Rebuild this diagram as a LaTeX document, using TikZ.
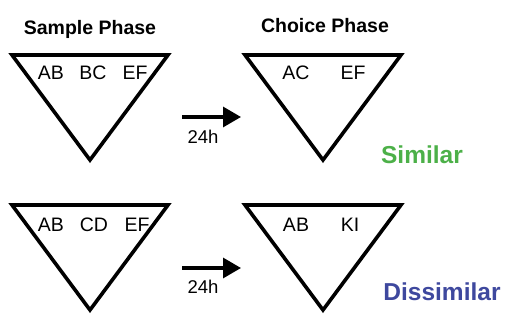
\documentclass[tikz,border=0pt]{standalone}
\usepackage{fontspec}
\setmainfont{Liberation Sans}
\usetikzlibrary{arrows.meta}
\definecolor{simgreen}{RGB}{76,176,72}
\definecolor{disblue}{RGB}{62,72,158}

\begin{document}
\begin{tikzpicture}[x=1pt, y=-1pt,
    tri/.style={line width=3.6pt, line join=miter},
    phase/.style={font=\fontsize{19.5}{19.5}\selectfont\bfseries},
    pair/.style={font=\fontsize{19.5}{19.5}\selectfont},
    delay/.style={font=\fontsize{18.5}{18.5}\selectfont},
    verdict/.style={font=\fontsize{24.5}{24.5}\selectfont\bfseries},
    wait/.style={line width=3.2pt, -{Triangle[length=18pt, width=20pt]}}]
  \useasboundingbox (0,0) rectangle (507,328);
  \node[phase] (sample) at (90,29) {Sample Phase};
  \node[phase] (choice) at (325,26) {Choice Phase};
  % four inverted triangles, sample left and choice right
  \foreach \x/\y in {12/55,245/55,12/205,245/205}{
    \draw[tri] (\x,\y) -- ++(156,0) -- ++(-78,105) -- cycle; }
  % object pairs
  \node[pair] (sAB) at (51,73) {AB};
  \node[pair] (sBC) at (93,73) {BC};
  \node[pair] (sEF) at (135,73) {EF};
  \node[pair] (cAC) at (296,73) {AC};
  \node[pair] (cEF) at (353,73) {EF};
  \node[pair] (dAB) at (51,225) {AB};
  \node[pair] (dCD) at (94,225) {CD};
  \node[pair] (dEF) at (137,225) {EF};
  \node[pair] (kAB) at (296,225) {AB};
  \node[pair] (kKI) at (350,225) {KI};
  % the 24h delay
  \coordinate (simfrom) at (182,117);
  \coordinate (simto) at (241,117);
  \coordinate (disfrom) at (182,268);
  \coordinate (disto) at (241,268);
  \draw[wait] (simfrom) -- (simto);
  \draw[wait] (disfrom) -- (disto);
  \node[delay] (simdelay) at (203,137) {24h};
  \node[delay] (disdelay) at (203,287) {24h};
  \node[verdict, simgreen] (similar) at (422,155) {Similar};
  \node[verdict, disblue] (dissimilar) at (442,292) {Dissimilar};
\end{tikzpicture}
\end{document}
